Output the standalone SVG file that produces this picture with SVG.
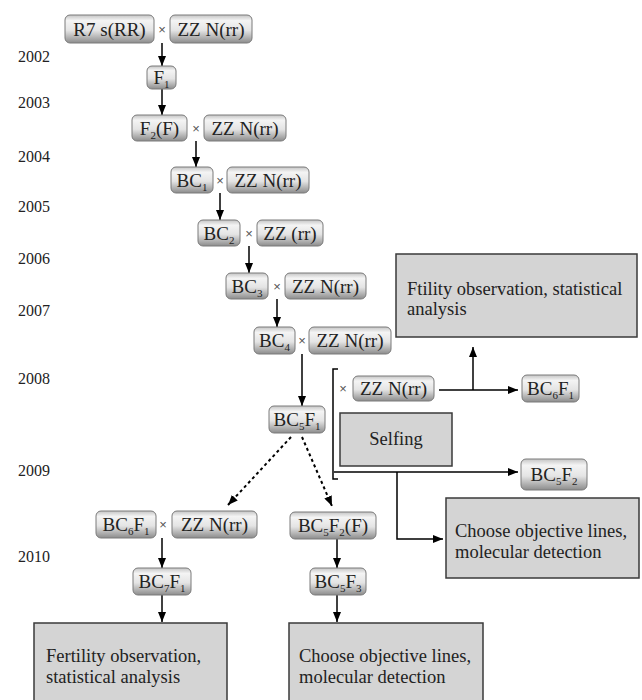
<svg xmlns="http://www.w3.org/2000/svg" width="642" height="700" viewBox="0 0 642 700" font-family="Liberation Serif, DejaVu Serif, serif">
<defs>
<linearGradient id="g" x1="0" y1="0" x2="0" y2="1">
<stop offset="0" stop-color="#c4c4c4"/>
<stop offset="0.2" stop-color="#f4f4f4"/>
<stop offset="0.55" stop-color="#e4e4e4"/>
<stop offset="1" stop-color="#8c8c8c"/>
</linearGradient>
<marker id="ah" markerUnits="userSpaceOnUse" markerWidth="10" markerHeight="8" refX="10" refY="4" orient="auto">
<path d="M0,0 L10,4 L0,8 z" fill="#000"/>
</marker>
<style>
.n{fill:url(#g);stroke:#7a7a7a;stroke-width:1}
.b{fill:#d4d4d4;stroke:#3a3a3a;stroke-width:1.5}
.t{font-size:19px;fill:#222;text-anchor:middle}
.bt{font-size:18.5px;fill:#222}
.x{font-size:13px;fill:#555;text-anchor:middle}
.y{font-size:16px;fill:#222}
.s{font-size:11px}
.c{stroke:#000;stroke-width:1.5;fill:none}
.a{stroke:#000;stroke-width:1.5;fill:none;marker-end:url(#ah)}
.d{stroke:#000;stroke-width:2;fill:none;stroke-dasharray:3 3;marker-end:url(#ah)}
</style>
</defs>
<rect width="642" height="700" fill="#fff"/>

<g id="years" font-family="Liberation Serif, serif">
<text class="y" x="18" y="62">2002</text>
<text class="y" x="18" y="108">2003</text>
<text class="y" x="18" y="162">2004</text>
<text class="y" x="18" y="212">2005</text>
<text class="y" x="18" y="264">2006</text>
<text class="y" x="18" y="316">2007</text>
<text class="y" x="18" y="384">2008</text>
<text class="y" x="18" y="476">2009</text>
<text class="y" x="18" y="562">2010</text>
</g>

<g id="connectors">
<line class="a" x1="162" y1="43" x2="162" y2="66"/>
<line class="a" x1="162" y1="89" x2="162" y2="115"/>
<line class="a" x1="196" y1="141" x2="196" y2="167"/>
<line class="a" x1="220" y1="193" x2="220" y2="220"/>
<line class="a" x1="249" y1="246" x2="249" y2="273"/>
<line class="a" x1="277" y1="299" x2="277" y2="327"/>
<line class="a" x1="302" y1="354" x2="302" y2="406"/>
<path class="c" d="M338,369 H333 V479 H338"/>
<line class="a" x1="439" y1="390" x2="518" y2="390"/>
<line class="a" x1="473" y1="390" x2="473" y2="347"/>
<line class="a" x1="334" y1="472" x2="518" y2="472"/>
<path class="a" d="M397,472 V539 H443"/>
<line class="d" x1="291" y1="437" x2="228" y2="505"/>
<line class="d" x1="302" y1="437" x2="332" y2="506"/>
<line class="a" x1="162" y1="538" x2="162" y2="568"/>
<line class="a" x1="162" y1="595" x2="162" y2="622"/>
<line class="a" x1="337" y1="539" x2="337" y2="568"/>
<line class="a" x1="337" y1="595" x2="337" y2="622"/>
</g>

<g id="n-r7">
<rect class="n" x="65" y="15" width="89" height="28" rx="5"/>
<text class="t" x="109.5" y="35.5" font-family="Liberation Serif, serif">R7 s(RR)</text>
</g>
<text class="x" x="162" y="33.5" font-family="Liberation Sans, sans-serif">×</text>
<g id="n-zz0">
<rect class="n" x="170" y="15" width="82" height="28" rx="5"/>
<text class="t" x="211" y="35.5">ZZ N(rr)</text>
</g>

<g id="n-f1">
<rect class="n" x="147" y="66" width="29" height="23" rx="5"/>
<text class="t" x="161.5" y="84">F<tspan class="s" dy="4">1</tspan></text>
</g>

<g id="n-f2">
<rect class="n" x="132" y="115" width="55" height="26" rx="5"/>
<text class="t" x="159.5" y="134.5">F<tspan class="s" dy="4">2</tspan><tspan dy="-4">(F)</tspan></text>
</g>
<text class="x" x="196" y="132.5" font-family="Liberation Sans, sans-serif">×</text>
<g id="n-zz1">
<rect class="n" x="204" y="115" width="82" height="26" rx="5"/>
<text class="t" x="245" y="134.5">ZZ N(rr)</text>
</g>

<g id="n-bc1">
<rect class="n" x="171" y="167" width="42" height="26" rx="5"/>
<text class="t" x="192" y="186.5">BC<tspan class="s" dy="4">1</tspan></text>
</g>
<text class="x" x="220" y="184.5" font-family="Liberation Sans, sans-serif">×</text>
<g id="n-zz2">
<rect class="n" x="227" y="167" width="82" height="26" rx="5"/>
<text class="t" x="268" y="186.5">ZZ N(rr)</text>
</g>

<g id="n-bc2">
<rect class="n" x="198" y="220" width="42" height="26" rx="5"/>
<text class="t" x="219" y="239.5">BC<tspan class="s" dy="4">2</tspan></text>
</g>
<text class="x" x="249" y="237.5" font-family="Liberation Sans, sans-serif">×</text>
<g id="n-zz3">
<rect class="n" x="257" y="220" width="66" height="26" rx="5"/>
<text class="t" x="290" y="239.5">ZZ (rr)</text>
</g>

<g id="n-bc3">
<rect class="n" x="226" y="273" width="42" height="26" rx="5"/>
<text class="t" x="247" y="292.5">BC<tspan class="s" dy="4">3</tspan></text>
</g>
<text class="x" x="277" y="290.5" font-family="Liberation Sans, sans-serif">×</text>
<g id="n-zz4">
<rect class="n" x="285" y="273" width="81" height="26" rx="5"/>
<text class="t" x="325.5" y="292.5">ZZ N(rr)</text>
</g>

<g id="n-bc4">
<rect class="n" x="254" y="327" width="41" height="27" rx="5"/>
<text class="t" x="274.5" y="347">BC<tspan class="s" dy="4">4</tspan></text>
</g>
<text class="x" x="302" y="345" font-family="Liberation Sans, sans-serif">×</text>
<g id="n-zz5">
<rect class="n" x="309" y="327" width="82" height="27" rx="5"/>
<text class="t" x="350" y="347">ZZ N(rr)</text>
</g>

<g id="n-bc5f1">
<rect class="n" x="269" y="406" width="56" height="27" rx="5"/>
<text class="t" x="297" y="426">BC<tspan class="s" dy="4">5</tspan><tspan dy="-4">F</tspan><tspan class="s" dy="4">1</tspan></text>
</g>

<g id="b-ftility">
<rect class="b" x="396" y="254" width="241" height="83"/>
<text class="bt" x="407" y="295">Ftility observation, statistical</text>
<text class="bt" x="407" y="315">analysis</text>
</g>

<text class="x" x="343" y="393" font-family="Liberation Sans, sans-serif">×</text>
<g id="n-zz6">
<rect class="n" x="353" y="376" width="81" height="25" rx="5"/>
<text class="t" x="393.5" y="395">ZZ N(rr)</text>
</g>

<g id="n-bc6f1r">
<rect class="n" x="522" y="375" width="57" height="27" rx="5"/>
<text class="t" x="550.5" y="395">BC<tspan class="s" dy="4">6</tspan><tspan dy="-4">F</tspan><tspan class="s" dy="4">1</tspan></text>
</g>

<g id="b-selfing">
<rect class="b" x="340" y="413" width="112" height="53"/>
<text class="bt" x="396" y="445" text-anchor="middle">Selfing</text>
</g>

<g id="n-bc5f2">
<rect class="n" x="521" y="459" width="66" height="31" rx="5"/>
<text class="t" x="554" y="481">BC<tspan class="s" dy="4">5</tspan><tspan dy="-4">F</tspan><tspan class="s" dy="4">2</tspan></text>
</g>

<g id="b-choose1">
<rect class="b" x="446" y="498" width="193" height="80"/>
<text class="bt" x="455" y="537">Choose objective lines,</text>
<text class="bt" x="455" y="558">molecular detection</text>
</g>

<g id="n-bc6f1">
<rect class="n" x="96" y="511" width="60" height="27" rx="5"/>
<text class="t" x="126" y="531">BC<tspan class="s" dy="4">6</tspan><tspan dy="-4">F</tspan><tspan class="s" dy="4">1</tspan></text>
</g>
<text class="x" x="163" y="529" font-family="Liberation Sans, sans-serif">×</text>
<g id="n-zz7">
<rect class="n" x="172" y="511" width="85" height="27" rx="5"/>
<text class="t" x="214.5" y="531">ZZ N(rr)</text>
</g>

<g id="n-bc5f2f">
<rect class="n" x="290" y="512" width="86" height="27" rx="5"/>
<text class="t" x="333" y="532">BC<tspan class="s" dy="4">5</tspan><tspan dy="-4">F</tspan><tspan class="s" dy="4">2</tspan><tspan dy="-4">(F)</tspan></text>
</g>

<g id="n-bc7f1">
<rect class="n" x="133" y="568" width="58" height="27" rx="5"/>
<text class="t" x="162" y="588">BC<tspan class="s" dy="4">7</tspan><tspan dy="-4">F</tspan><tspan class="s" dy="4">1</tspan></text>
</g>

<g id="n-bc5f3">
<rect class="n" x="310" y="568" width="56" height="27" rx="5"/>
<text class="t" x="338" y="588">BC<tspan class="s" dy="4">5</tspan><tspan dy="-4">F</tspan><tspan class="s" dy="4">3</tspan></text>
</g>

<g id="b-fertility">
<rect class="b" x="34" y="623" width="193" height="80"/>
<text class="bt" x="46" y="662">Fertility observation,</text>
<text class="bt" x="46" y="683">statistical analysis</text>
</g>

<g id="b-choose2">
<rect class="b" x="289" y="623" width="194" height="80"/>
<text class="bt" x="299" y="662">Choose objective lines,</text>
<text class="bt" x="299" y="683">molecular detection</text>
</g>
</svg>
